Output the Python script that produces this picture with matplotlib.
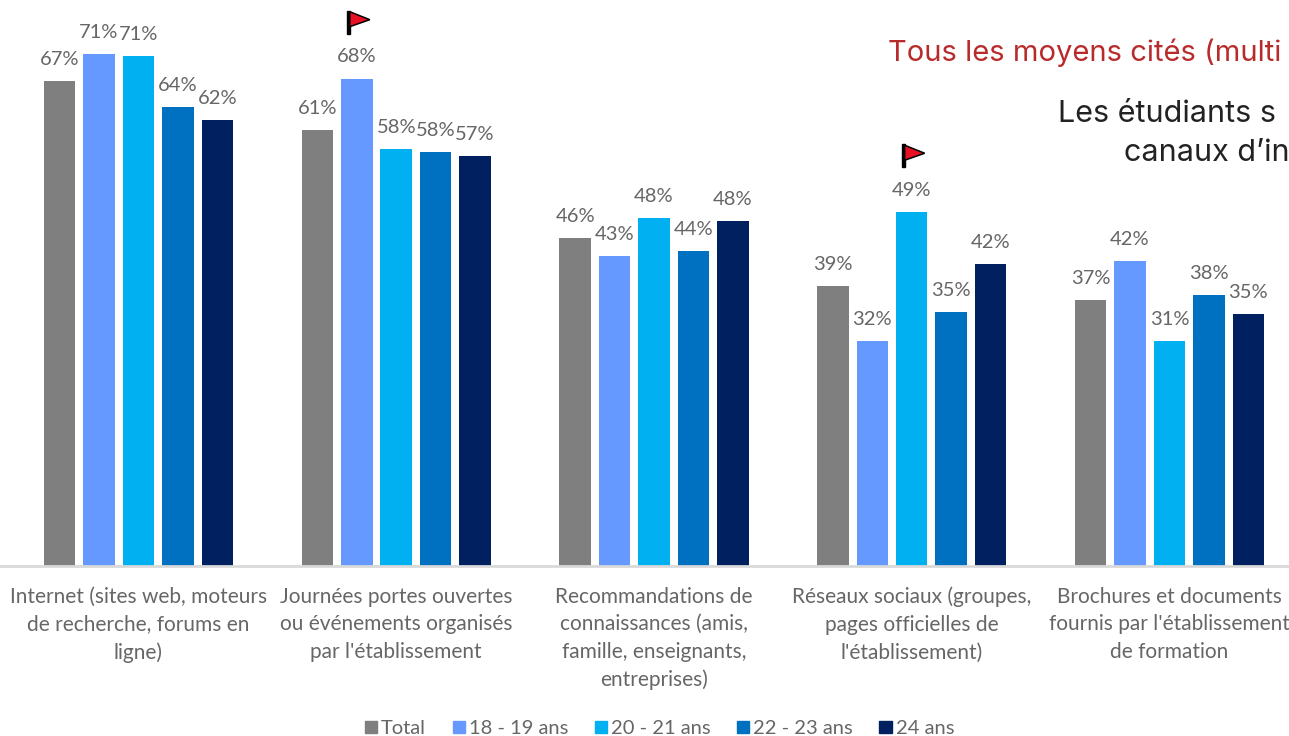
import matplotlib
matplotlib.use("Agg")
import matplotlib.pyplot as plt
from matplotlib.patches import Polygon, Rectangle
from matplotlib.transforms import Affine2D, ScaledTranslation

categories = [
    "Internet (sites web, moteurs\nde recherche, forums en\nligne)",
    "Journées portes ouvertes\nou événements organisés\npar l'établissement",
    "Recommandations de\nconnaissances (amis,\nfamille, enseignants,\nentreprises)",
    "Réseaux sociaux (groupes,\npages officielles de\nl'établissement)",
    "Brochures et documents\nfournis par l'établissement\nde formation",
]
series_names = ["Total", "18 - 19 ans", "20 - 21 ans", "22 - 23 ans", "24 ans"]
colors = ["#7F7F7F", "#6699FF", "#00B0F0", "#0070C0", "#002060"]

# bar heights
total = [67.2, 60.4, 45.4, 38.8, 36.8]
age_18 = [70.9, 67.5, 42.9, 31.2, 42.2]
age_20 = [70.6, 57.8, 48.2, 49.0, 31.2]
age_22 = [63.6, 57.3, 43.6, 35.2, 37.5]
age_24 = [61.8, 56.8, 47.8, 41.8, 34.9]
heights = [total, age_18, age_20, age_22, age_24]

# printed labels
labels_total = [67, 61, 46, 39, 37]
labels_18 = [71, 68, 43, 32, 42]
labels_20 = [71, 58, 48, 49, 31]
labels_22 = [64, 58, 44, 35, 38]
labels_24 = [62, 57, 48, 42, 35]
printed = [labels_total, labels_18, labels_20, labels_22, labels_24]

# (series, group) that carry a flag
flagged = [(1, 1), (2, 3)]

plt.rcParams['font.family'] = ['Lato', 'DejaVu Sans']
GREY = "#666666"

fig = plt.figure(figsize=[12.89, 7.36], dpi=100)
ax = fig.add_axes([0, 1 - 566 / 736, 1, 566 / 736])
ax.set_xlim(-0.5373, 4.464)
ax.set_ylim(0, 78.4)

width = 0.122
pitch = 0.153
for i, values in enumerate(heights):
    xs = [g + (i - 2) * pitch for g in range(len(values))]
    ax.bar(xs, values, width=width, color=colors[i])
    for x, v, lab in zip(xs, values, printed[i]):
        ax.annotate(f"{lab}%", (x, v), xytext=(0, 9.5), textcoords="offset points",
                    ha="center", va="bottom", fontsize=14.5, color=GREY)

# little red flags above the bars, drawn in pixels from the bar top
for i, g in flagged:
    x = g + (i - 2) * pitch
    base = Affine2D() + ScaledTranslation(x, heights[i][g], ax.transData)
    ax.add_patch(Rectangle((-9.5, 45), 2.5, 23, transform=base, color="black", clip_on=False))
    ax.add_patch(Polygon([(-7, 52), (-7, 67), (13, 59)], closed=True, transform=base,
                         facecolor="#E81123", edgecolor="black", linewidth=1.1, clip_on=False))

for s in ["top", "left", "right"]:
    ax.spines[s].set_visible(False)
ax.spines["bottom"].set_color("#D9D9D9")
ax.spines["bottom"].set_linewidth(2)
ax.set_yticks([])
ax.set_xticks(range(len(categories)))
ax.set_xticklabels(categories, fontsize=15, color=GREY, linespacing=1.47)
ax.tick_params(axis="x", length=0, pad=15)

handles = [Rectangle((0, 0), 1, 1, color=c) for c in colors]
fig.legend(handles, series_names, loc="lower center", bbox_to_anchor=(0.5 + 15 / 1289, -0.026), ncol=5,
           frameon=False, fontsize=14.5, labelcolor=GREY, handlelength=0.6, handleheight=0.6,
           handletextpad=0.2, columnspacing=1.32)

fig.text(888 / 1289, 1 - 53 / 736, "Tous les moyens cités (multi", fontsize=21, color="#B92B2B",
         family="Inter", va="center", ha="left")
fig.text(1058 / 1289, 1 - 114 / 736, "Les étudiants s", fontsize=22, color="#222222",
         family="Inter", va="center", ha="left")
fig.text(1124 / 1289, 1 - 153 / 736, "canaux d’in", fontsize=22, color="#222222",
         family="Inter", va="center", ha="left")

fig.savefig("out.png", dpi=100)
